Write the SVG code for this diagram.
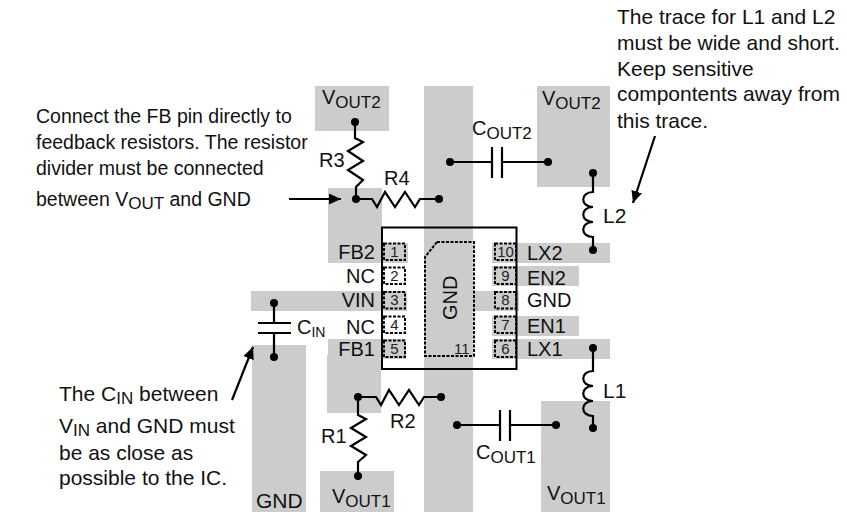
<svg xmlns="http://www.w3.org/2000/svg" width="847" height="512" viewBox="0 0 847 512">
<style>
text{font-family:"Liberation Sans",Arial,sans-serif;font-size:20px;fill:#111}
.pad{fill:#ccc}
.ln{fill:none;stroke:#000;stroke-width:2.2}
.dot{fill:#000}
.pin{fill:none;stroke:#000;stroke-width:2;stroke-dasharray:3 1.5}
.n{font-size:15px;fill:#222}
.c{text-anchor:middle}
.e{text-anchor:end}
.l{font-size:19.5px}
.r{font-size:21px}
.sub{font-size:17px}
</style>
<defs>
<marker id="ah" markerUnits="userSpaceOnUse" markerWidth="14" markerHeight="12" refX="12" refY="5.5" orient="auto"><path d="M0 0L12 5.5L0 11z" fill="#000"/></marker>
</defs>
<g id="copper">
<rect class="pad" x="424" y="86" width="49" height="426"/>
<rect class="pad" x="315" y="86" width="74" height="45"/>
<rect class="pad" x="537" y="86" width="73" height="101"/>
<path class="pad" d="M328 188H382V243H408V263H328z"/>
<rect class="pad" x="251" y="291" width="156" height="20"/>
<path class="pad" d="M328 339H406V359H381V413H327V355H328z"/>
<rect class="pad" x="252" y="345" width="54" height="167"/>
<rect class="pad" x="320" y="471" width="74" height="41"/>
<rect class="pad" x="492" y="243" width="118" height="20"/>
<rect class="pad" x="492" y="266" width="87" height="20"/>
<rect class="pad" x="473" y="291" width="46" height="20"/>
<rect class="pad" x="492" y="316" width="87" height="20"/>
<rect class="pad" x="492" y="339" width="118" height="20"/>
<rect class="pad" x="541" y="401" width="69" height="111"/>
</g>
<g id="ic">
<rect x="382" y="227.5" width="134.5" height="141.5" fill="none" stroke="#000" stroke-width="2"/>
<path class="pin" d="M437 242H474V356H425V257z"/>
<text transform="rotate(-90 457 320)" x="457" y="320">GND</text>
<text class="n" x="454" y="354">11</text>
</g>
<g id="pins-left">
<rect class="pin" x="384" y="243.5" width="21" height="16.5"/><text class="n c" x="394.5" y="257">1</text>
<rect class="pin" x="384" y="267.5" width="21" height="16.5"/><text class="n c" x="394.5" y="281">2</text>
<rect class="pin" x="384" y="292" width="21" height="16.5"/><text class="n c" x="394.5" y="305">3</text>
<rect class="pin" x="384" y="316.5" width="21" height="16.5"/><text class="n c" x="394.5" y="330">4</text>
<rect class="pin" x="384" y="340.5" width="21" height="16.5"/><text class="n c" x="394.5" y="354">5</text>
<text class="e" x="375" y="259">FB2</text>
<text class="e" x="375" y="283">NC</text>
<text class="e" x="375" y="307">VIN</text>
<text class="e" x="375" y="334">NC</text>
<text class="e" x="375" y="356">FB1</text>
</g>
<g id="pins-right">
<rect class="pin" x="495" y="243.5" width="21" height="16.5"/><text class="n c" x="505.5" y="257">10</text>
<rect class="pin" x="495" y="267.5" width="21" height="16.5"/><text class="n c" x="505.5" y="281">9</text>
<rect class="pin" x="495" y="292" width="21" height="16.5"/><text class="n c" x="505.5" y="305">8</text>
<rect class="pin" x="495" y="316.5" width="21" height="16.5"/><text class="n c" x="505.5" y="330">7</text>
<rect class="pin" x="495" y="340.5" width="21" height="16.5"/><text class="n c" x="505.5" y="354">6</text>
<text x="527" y="260">LX2</text>
<text x="527" y="285">EN2</text>
<text x="527" y="307">GND</text>
<text x="527" y="333">EN1</text>
<text x="527" y="356">LX1</text>
</g>
<g id="connectors">
<path class="ln" d="M355 122V138L363 142L348 151L363 161L348 170L363 180L356 187V199"/>
<path class="ln" d="M356 199H372L377 207L385 192L395 207L405 192L415 207L420 199H439"/>
<path class="ln" d="M358 476V462L366 455L351 446L366 437L351 428L366 419L358 415V397"/>
<path class="ln" d="M358 397H376L381 405L389 390L399 405L409 390L419 405L424 397H441"/>
<path class="ln" d="M450 162H492M502 162H548M492 147V178M502 147V178"/>
<path class="ln" d="M457 425H500M510 425H556M500 410V441M510 410V441"/>
<path class="ln" d="M274 303V323M274 333V357M258 323H291M258 333H291"/>
<path class="ln" d="M593 173V192C580 192 580 207 593 207C580 207 580 222 593 222C580 222 580 237 593 237V250"/>
<path class="ln" d="M593 348V371C580 371 580 386 593 386C580 386 580 401 593 401C580 401 580 416 593 416V428"/>
<path class="ln" d="M289 199H341" marker-end="url(#ah)"/>
<path class="ln" d="M232 400L253 347" marker-end="url(#ah)"/>
<path class="ln" d="M655 136L633 203" marker-end="url(#ah)"/>
<g class="dot">
<circle cx="355" cy="122" r="4"/><circle cx="356" cy="199" r="4"/><circle cx="439" cy="199" r="4"/>
<circle cx="450" cy="162" r="4"/><circle cx="548" cy="162" r="4"/><circle cx="593" cy="173" r="4"/>
<circle cx="593" cy="250" r="4"/><circle cx="274" cy="303" r="4"/><circle cx="274" cy="357" r="4"/>
<circle cx="358" cy="397" r="4"/><circle cx="441" cy="397" r="4"/><circle cx="358" cy="476" r="4"/>
<circle cx="457" cy="425" r="4"/><circle cx="556" cy="425" r="4"/><circle cx="593" cy="348" r="4"/><circle cx="593" cy="428" r="4"/>
</g>
</g>
<g id="labels">
<text x="322" y="104">V<tspan dy="4" class="sub">OUT2</tspan></text>
<text x="542" y="105">V<tspan dy="4" class="sub">OUT2</tspan></text>
<text x="472" y="135">C<tspan dy="4" class="sub">OUT2</tspan></text>
<text x="319" y="167">R3</text>
<text x="384" y="185">R4</text>
<text x="603" y="223" class="r">L2</text>
<text x="297" y="334">C<tspan dy="3" style="font-size:14px">IN</tspan></text>
<text x="390" y="428">R2</text>
<text x="321" y="443">R1</text>
<text x="603" y="398" class="r">L1</text>
<text x="476" y="459">C<tspan dy="4" class="sub">OUT1</tspan></text>
<text x="332" y="503">V<tspan dy="4" class="sub">OUT1</tspan></text>
<text x="547" y="500">V<tspan dy="4" class="sub">OUT1</tspan></text>
<text x="256" y="508" class="r">GND</text>
<text class="l" x="36" y="123">Connect the FB pin directly to</text>
<text class="l" x="36" y="149">feedback resistors. The resistor</text>
<text class="l" x="36" y="175">divider must be connected</text>
<text class="l" x="36" y="206">between V<tspan dy="3" class="sub">OUT</tspan><tspan dy="-3"> and GND</tspan></text>
<text class="r" x="617" y="24">The trace for L1 and L2</text>
<text class="r" x="617" y="50">must be wide and short.</text>
<text class="r" x="617" y="76">Keep sensitive</text>
<text class="r" x="617" y="101">compontents away from</text>
<text class="r" x="617" y="128">this trace.</text>
<text class="r" x="59" y="401">The C<tspan dy="3" class="sub">IN</tspan><tspan dy="-3"> between</tspan></text>
<text class="r" x="59" y="433">V<tspan dy="3" class="sub">IN</tspan><tspan dy="-3"> and GND must</tspan></text>
<text class="r" x="59" y="460">be as close as</text>
<text class="r" x="59" y="485">possible to the IC.</text>
</g>
</svg>
